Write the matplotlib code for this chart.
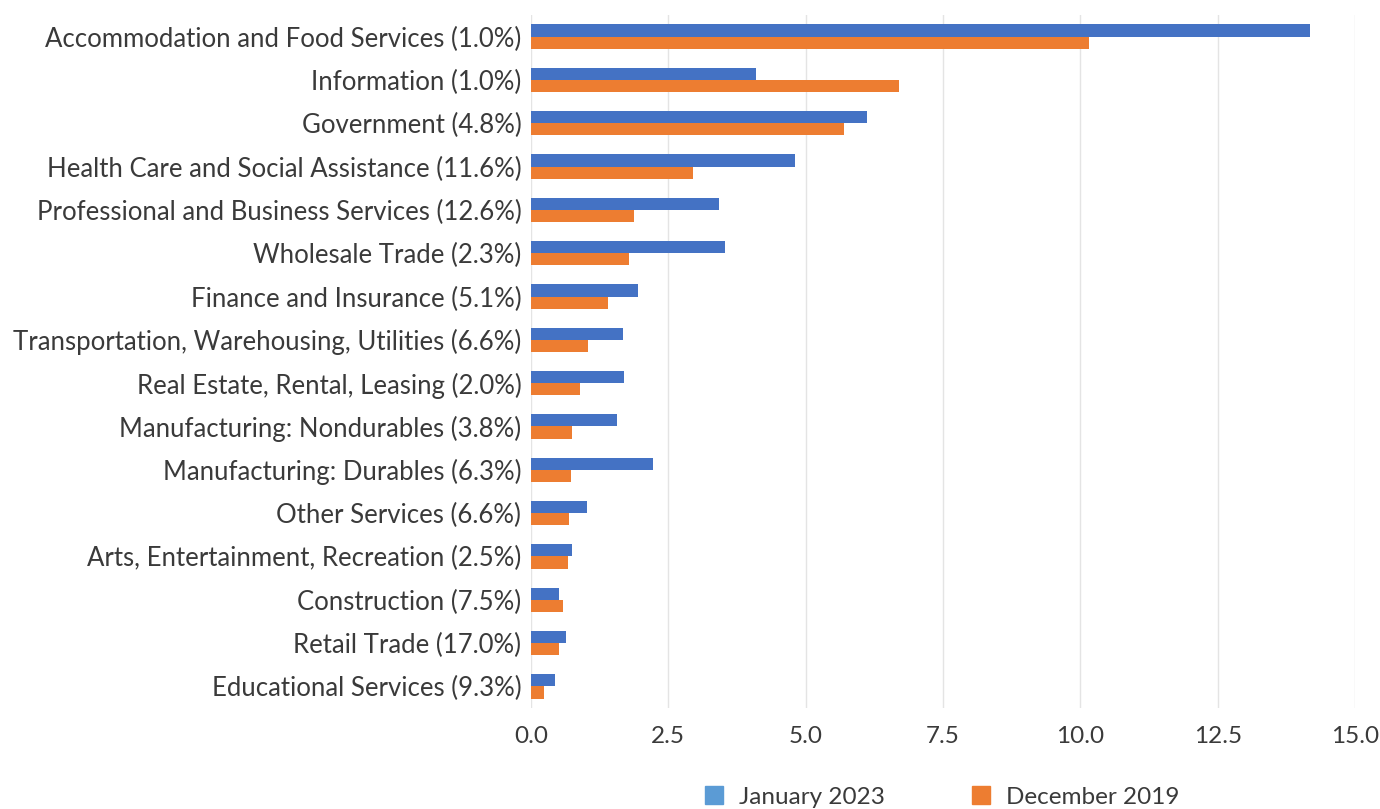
import matplotlib.pyplot as plt
from matplotlib.patches import Patch
import numpy as np

plt.rcParams['font.family'] = ['Lato', 'DejaVu Sans']

# Industries (share of employment in parentheses), top to bottom
industries = [
    'Accommodation and Food Services (1.0%)',
    'Information (1.0%)',
    'Government (4.8%)',
    'Health Care and Social Assistance (11.6%)',
    'Professional and Business Services (12.6%)',
    'Wholesale Trade (2.3%)',
    'Finance and Insurance (5.1%)',
    'Transportation, Warehousing, Utilities (6.6%)',
    'Real Estate, Rental, Leasing (2.0%)',
    'Manufacturing: Nondurables (3.8%)',
    'Manufacturing: Durables (6.3%)',
    'Other Services (6.6%)',
    'Arts, Entertainment, Recreation (2.5%)',
    'Construction (7.5%)',
    'Retail Trade (17.0%)',
    'Educational Services (9.3%)',
]

jan_2023 = [14.18, 4.09, 6.12, 4.81, 3.42, 3.54, 1.95, 1.67,
            1.69, 1.56, 2.22, 1.01, 0.75, 0.51, 0.64, 0.44]
dec_2019 = [10.16, 6.69, 5.69, 2.95, 1.88, 1.78, 1.40, 1.04,
            0.89, 0.75, 0.73, 0.70, 0.67, 0.58, 0.51, 0.23]

x_ticks = [0.0, 2.5, 5.0, 7.5, 10.0, 12.5, 15.0]

bar_blue = '#4472C4'
legend_blue = '#5B9BD5'
orange = '#ED7D31'
text_color = '#3a3a3a'

fig = plt.figure(figsize=(13.8, 8.09), dpi=100)
ax = fig.add_axes([0.3848, 0.1248, 0.5971, 0.8567])

y = np.arange(len(industries))
h = 0.28
ax.barh(y - h / 2, jan_2023, height=h, color=bar_blue, zorder=3)
ax.barh(y + h / 2, dec_2019, height=h, color=orange, zorder=3)

ax.set_ylim(len(industries) - 0.5, -0.5)
ax.set_xlim(0, 15)
ax.set_yticks(y)
ax.set_yticklabels(industries, fontsize=18.5, color=text_color)
ax.set_xticks(x_ticks)
ax.set_xticklabels([f'{v:.1f}' for v in x_ticks], fontsize=17.5, color=text_color)
ax.tick_params(axis='y', length=0, pad=7)
ax.tick_params(axis='x', length=0, pad=13)

ax.grid(axis='x', color='#e4e4e4', linewidth=1, zorder=0)
for s in ax.spines.values():
    s.set_visible(False)

handles = [Patch(color=legend_blue, label='January 2023'),
           Patch(color=orange, label='December 2019')]
fig.legend(handles=handles, loc='center', ncol=2, frameon=False,
           bbox_to_anchor=(942 / 1380, 1 - 797 / 809), fontsize=17.5,
           labelcolor=text_color, handlelength=0.75, handleheight=0.75,
           columnspacing=3.6, handletextpad=0.65)

fig.savefig('out.png', dpi=100)
